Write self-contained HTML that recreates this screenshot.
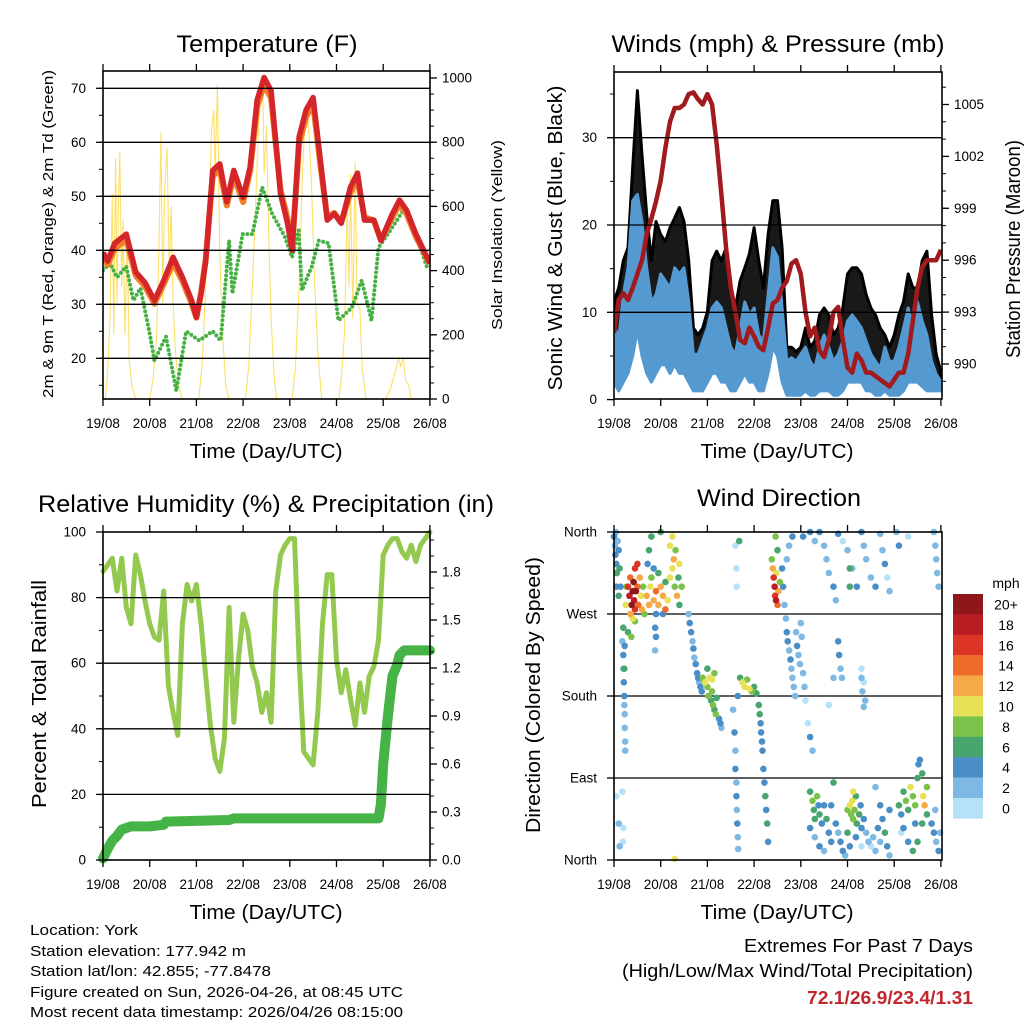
<!DOCTYPE html>
<html><head><meta charset="utf-8"><title>Weather station 7-day summary</title>
<style>
html,body{margin:0;padding:0;background:#fff;}
svg{display:block;font-family:"Liberation Sans",Arial,sans-serif;}
</style></head>
<body>
<svg id="chart" width="1024" height="1024" viewBox="0 0 1024 1024" xmlns="http://www.w3.org/2000/svg">
<rect x="0" y="0" width="1024" height="1024" fill="#fff"/>
<text x="267" y="52" font-size="24" text-anchor="middle" textLength="181" lengthAdjust="spacingAndGlyphs">Temperature (F)</text>
<text x="778" y="52" font-size="24" text-anchor="middle" textLength="333" lengthAdjust="spacingAndGlyphs">Winds (mph) &amp; Pressure (mb)</text>
<text x="266" y="512" font-size="24" text-anchor="middle" textLength="456" lengthAdjust="spacingAndGlyphs">Relative Humidity (%) &amp; Precipitation (in)</text>
<text x="779" y="506" font-size="24" text-anchor="middle" textLength="164" lengthAdjust="spacingAndGlyphs">Wind Direction</text>

<text x="266" y="458" font-size="20" text-anchor="middle" textLength="153" lengthAdjust="spacingAndGlyphs">Time (Day/UTC)</text>
<text x="777" y="458" font-size="20" text-anchor="middle" textLength="153" lengthAdjust="spacingAndGlyphs">Time (Day/UTC)</text>
<text x="266" y="919" font-size="20" text-anchor="middle" textLength="153" lengthAdjust="spacingAndGlyphs">Time (Day/UTC)</text>
<text x="777" y="919" font-size="20" text-anchor="middle" textLength="153" lengthAdjust="spacingAndGlyphs">Time (Day/UTC)</text>

<text transform="translate(53,234) rotate(-90)" font-size="15" text-anchor="middle" textLength="328" lengthAdjust="spacingAndGlyphs">2m &amp; 9m T (Red, Orange) &amp; 2m Td (Green)</text>
<text transform="translate(502,235) rotate(-90)" font-size="15" text-anchor="middle" textLength="190" lengthAdjust="spacingAndGlyphs">Solar Insolation (Yellow)</text>
<text transform="translate(562,238) rotate(-90)" font-size="20" text-anchor="middle" textLength="305" lengthAdjust="spacingAndGlyphs">Sonic Wind &amp; Gust (Blue, Black)</text>
<text transform="translate(1020,249) rotate(-90)" font-size="20" text-anchor="middle" textLength="218" lengthAdjust="spacingAndGlyphs">Station Pressure (Maroon)</text>
<text transform="translate(46,694) rotate(-90)" font-size="20" text-anchor="middle" textLength="228" lengthAdjust="spacingAndGlyphs">Percent &amp; Total Rainfall</text>
<text transform="translate(540,695) rotate(-90)" font-size="20" text-anchor="middle" textLength="276" lengthAdjust="spacingAndGlyphs">Direction (Colored By Speed)</text>

<g font-size="15">
<text x="30" y="935" textLength="108" lengthAdjust="spacingAndGlyphs">Location: York</text>
<text x="30" y="956" textLength="216" lengthAdjust="spacingAndGlyphs">Station elevation: 177.942 m</text>
<text x="30" y="976" textLength="241" lengthAdjust="spacingAndGlyphs">Station lat/lon: 42.855; -77.8478</text>
<text x="30" y="997" textLength="373" lengthAdjust="spacingAndGlyphs">Figure created on Sun, 2026-04-26, at 08:45 UTC</text>
<text x="30" y="1017" textLength="373" lengthAdjust="spacingAndGlyphs">Most recent data timestamp: 2026/04/26 08:15:00</text>
</g>
<text x="973" y="952" font-size="18" text-anchor="end" textLength="229" lengthAdjust="spacingAndGlyphs">Extremes For Past 7 Days</text>
<text x="973" y="977" font-size="18" text-anchor="end" textLength="351" lengthAdjust="spacingAndGlyphs">(High/Low/Max Wind/Total Precipitation)</text>
<text x="973" y="1004" font-size="18" font-weight="bold" fill="#c1272d" text-anchor="end" textLength="166" lengthAdjust="spacingAndGlyphs">72.1/26.9/23.4/1.31</text>
</svg>
<script>
// ---------- DATA ----------
const dayLabels = ["19/08","20/08","21/08","22/08","23/08","24/08","25/08","26/08"];
const tempTimes = [0,0.1,0.25,0.5,0.7,0.9,1.1,1.3,1.5,1.7,1.9,2.0,2.1,2.2,2.35,2.5,2.65,2.8,3.0,3.15,3.3,3.45,3.6,3.8,3.95,4.05,4.2,4.35,4.5,4.65,4.8,4.95,5.1,5.3,5.45,5.6,5.8,5.95,6.2,6.35,6.5,6.7,7.0];
const tempRed = [39.6,38,41.3,43,36,34,30.7,34.4,38.7,35,30.7,27.6,32,38,54.8,56,49,54.8,49.8,55.4,67.8,72,69.6,50.5,45,40,61,66,68.3,57,45.6,46.8,45,51.7,54.3,45.6,45.6,41.8,46.8,49.3,47.4,43,37.6];
const tempOrange = [39,37.6,40.6,42.2,35.6,33.6,30.4,34,38,34.6,30.4,27.8,32.4,38.6,54,55.2,48.6,54,49.2,55,66.8,71,68.4,51.5,46.2,40.6,60,65,67.4,56.4,46.4,47.2,45.4,51,53.4,46.4,45.8,42.2,46.4,48.8,47,42.8,37.8];
const dewTimes = [0,0.15,0.3,0.5,0.65,0.8,1.0,1.1,1.35,1.57,1.78,2.06,2.35,2.52,2.7,2.77,2.99,3.2,3.41,3.62,3.9,4.05,4.19,4.26,4.47,4.62,4.83,5.04,5.33,5.54,5.75,5.9,6.1,6.43,6.67,6.96];
const dewPoint = [36.3,37.6,35,37,30.7,33,24.6,19.6,24,14,25,23.3,25,23.3,41.8,32,43,43,51.7,46.8,42.4,38.7,43.7,32.6,37,41.8,41.3,27,29.4,34.4,27,40.5,43,47.4,43.7,36.3];
const solarTimes = [0,0.05,0.1,0.15,0.2,0.23,0.27,0.3,0.33,0.36,0.4,0.43,0.47,0.52,0.56,0.62,0.7,
 1.0,1.07,1.15,1.2,1.24,1.28,1.32,1.37,1.42,1.46,1.5,1.55,1.62,1.7,
 2.05,2.12,2.2,2.27,2.33,2.37,2.4,2.45,2.5,2.56,2.63,2.7,
 3.05,3.12,3.2,3.28,3.33,3.38,3.42,3.45,3.5,3.55,3.6,3.67,3.72,
 4.05,4.12,4.2,4.27,4.32,4.37,4.42,4.47,4.52,4.6,4.68,
 5.05,5.1,5.17,5.23,5.27,5.3,5.35,5.4,5.44,5.5,5.55,5.63,
 6.05,6.15,6.25,6.33,6.38,6.43,6.48,6.55,6.6,7.0];
const solarValues = [0,0,80,250,640,200,750,300,600,770,350,560,200,500,120,40,0,
 0,60,200,480,830,300,650,780,400,600,300,150,40,0,
 0,100,350,600,850,900,700,980,450,200,40,0,
 0,100,350,650,850,950,990,700,850,500,250,60,0,
 0,100,350,700,850,900,800,650,400,150,0,
 0,60,200,600,350,700,250,740,300,280,100,0,
 0,30,80,130,100,130,60,40,0,0];
const windStepDays = 0.1;
const windHigh = [8.6,7,12,15.1,22.8,23.5,20.4,15.1,11.2,12,14.4,13.6,12.8,15.1,14.4,15.1,11.2,5.2,5.2,6.7,8.2,10.5,11.2,10.5,8.2,6,5.2,8.2,11.2,9.7,10.5,7.4,6.7,12,17.4,16.3,10.5,4.4,4.8,4.4,5.2,6,4.4,3.6,6,7.4,6,4.4,5.2,6.7,9,9.7,9,8.2,6.7,5.2,4.4,3.6,6,4.4,4.4,6,8.2,10.5,8.2,11.2,9,7.4,4.4,2.9,2.1];
const windLow = [2,1,2,3,5,8,5,3,2,3,4,4,3,4,3,3,2,1,1,1,2,3,3,2,2,1,1,2,3,2,2,1,1,3,6,5,2,0.5,0.5,0.5,0.5,1,0.5,0.5,1,1,1,0.5,0.5,1,2,2,2,2,1,1,0.5,0.5,1,0.5,0.5,0.5,1,2,2,2,1.5,1,1,1,1];
const gustHigh = [11.2,12.8,15.9,17.4,26.6,35.4,28,21.2,15.9,20.4,18.9,18.1,19.7,20.8,22,20.4,15.9,8.2,7.4,8.2,10.1,15.9,17,15.9,17.4,12,10.5,13.6,15.1,16.7,19.7,15.9,12.8,18.9,22.8,22.8,17.4,6,6,5.5,6,8.2,6,6.7,9.7,10.5,9.7,7.4,8.2,10.5,14.4,15.1,15.1,14.4,12,10.5,9.7,8.2,7.4,6,7.4,9.7,11.2,14.4,12.8,12.8,15.9,17,9.7,5.2,3.2];
const pressure = [991.8,993.7,994.1,993.7,994.4,995.2,996,997.5,998.4,999.4,1000.6,1002.5,1004,1004.8,1004.8,1005,1005.6,1005.7,1005.3,1005,1005.6,1005,1002.7,999.8,996.7,994.4,993,991.4,991.2,992.1,991.6,991,990.8,992.1,993.5,993.7,994.4,994.8,995.8,996,995.2,993,991.6,992.1,990.8,990.4,991.4,993,993.3,991.4,989.8,989.5,990.6,990.2,989.5,989.5,989.3,989.1,988.9,988.7,989.1,989.5,989.5,990.6,992.5,994.4,995.6,996,996,996,996.6];
const humidity = [88,90,92,82,92,77,72,93,87,79,72,68,67,82,53,45,38,72,84,79,84,72,56,41,31,27,37,77,42,61,75,70,59,54,45,51,42,82,93,96,98,98,61,33,31,29,45,72,87,87,61,51,58,49,41,54,45,56,59,67,93,96,98,98,94,92,96,91,96,98,100];
const precipTimes = [0,0.1,0.2,0.3,0.4,0.5,0.6,1.0,1.3,1.35,2.7,2.8,5.9,5.95,6.0,6.1,6.2,6.3,6.35,6.45,7.0];
const precipValues = [0.01,0.07,0.12,0.15,0.19,0.2,0.21,0.21,0.22,0.24,0.25,0.26,0.26,0.35,0.6,0.9,1.15,1.22,1.28,1.31,1.31];
const speedLegendLabels = ["20+","18","16","14","12","10","8","6","4","2","0"];
const directionLabels = ["North","West","South","East","North"];
// wind direction observations: [day, degrees, mph]
const dirNorthStart = [[0.0,355,4],[0.02,345,3],[0.03,335,5],[0.05,325,4],[0.06,315,6],[0.08,350,3],[0.1,340,5],[0.12,320,6],[0.14,300,5],[0.05,300,4],[0.1,290,7],[0.04,360,2],[0.05,70,1],[0.1,40,2],[0.12,15,2]];
const dirRedGust = [[0.3,300,16],[0.33,290,18],[0.35,310,14],[0.38,280,20],[0.4,295,22],[0.42,305,21],[0.43,285,19],[0.45,275,17],[0.47,295,20],[0.5,300,15],[0.52,280,14],[0.55,310,12],[0.58,290,10],[0.35,270,13],[0.4,265,11],[0.45,262,8],[0.3,250,6],[0.37,245,8],[0.25,280,10],[0.27,300,8],[0.5,325,16],[0.45,320,17],[0.6,275,12],[0.62,300,9]];
const dirWestDay20 = [[0.7,290,12],[0.75,280,13],[0.78,300,10],[0.8,310,8],[0.85,285,12],[0.9,295,14],[0.95,280,12],[1.0,300,13],[1.05,290,12],[1.1,275,14],[1.15,285,10],[1.2,310,11],[1.25,320,10],[1.28,330,12],[1.3,300,9],[1.32,340,8],[1.35,290,12],[1.38,310,7],[1.4,280,6],[1.45,300,8],[0.75,340,7],[0.8,355,6],[0.72,325,4],[0.85,320,4],[1.2,345,11],[1.25,355,10],[1.1,305,7],[0.95,315,6],[1.05,270,4],[1.4,325,10],[0.65,270,9],[0.9,270,5],[1.0,360,6]];
const dirVeerDay19 = [[0.18,240,3],[0.2,225,4],[0.2,210,3],[0.21,195,4],[0.22,180,4],[0.22,170,3],[0.23,160,2],[0.23,145,2],[0.24,130,2],[0.24,120,2],[0.18,75,1],[0.2,35,1],[0.19,20,1],[0.22,210,6],[0.2,255,6],[0.23,235,5],[0.88,255,4],[0.88,230,2],[0.9,245,4]];
const dirBackDay21 = [[1.6,270,2],[1.62,260,4],[1.65,250,4],[1.68,240,3],[1.7,232,4],[1.72,222,2],[1.75,215,4],[1.78,205,4],[1.8,200,4],[1.82,195,3],[1.85,190,4],[1.88,185,4],[1.9,200,8],[1.95,195,10],[2.0,190,9],[2.02,180,8],[2.05,200,11],[2.08,175,7],[2.1,185,8],[2.12,170,9],[2.15,165,7],[2.18,160,8],[2.2,178,6],[2.25,155,4],[2.28,150,4],[2.3,145,3],[2.15,205,8],[2.0,210,6],[2.1,198,10]];
const dirSouthDay22 = [[2.58,140,4],[2.6,120,3],[2.6,100,4],[2.62,85,2],[2.62,70,4],[2.63,55,3],[2.64,40,4],[2.65,25,3],[2.66,12,2],[2.55,165,3],[2.7,200,7],[2.75,195,10],[2.8,190,11],[2.85,198,9],[2.9,188,10],[2.95,185,8],[3.0,190,7],[3.05,183,6],[3.1,170,6],[3.12,160,6],[3.14,150,5],[3.15,140,4],[3.17,130,4],[3.18,120,4],[3.2,100,4],[3.22,85,4],[3.24,70,6],[3.26,55,4],[3.28,40,6],[3.3,20,4],[2.65,180,4],[2.6,345,1],[2.62,320,1],[2.68,350,6],[2.63,300,1]];
const dirWestDay22 = [[3.38,330,8],[3.4,320,12],[3.42,310,16],[3.44,300,18],[3.45,290,17],[3.47,285,19],[3.5,280,15],[3.52,295,13],[3.48,315,10],[3.55,305,9],[3.5,340,6],[3.46,355,8]];
const dirColumnsDay23 = [[3.6,320,4],[3.62,300,4],[3.65,280,3],[3.68,265,2],[3.7,250,4],[3.72,240,4],[3.75,230,2],[3.78,220,4],[3.8,210,3],[3.82,200,2],[3.85,190,3],[3.88,180,2],[3.9,250,2],[3.92,235,4],[3.95,225,3],[3.98,215,2],[4.0,260,2],[4.02,245,2],[4.05,205,2],[4.08,190,3],[4.1,175,1],[4.15,150,1],[4.2,135,4],[4.25,120,2],[3.7,330,3],[3.75,345,2],[3.82,355,4],[4.8,240,4],[4.82,225,4],[4.85,210,2],[4.88,200,2],[5.3,200,2],[5.32,185,2],[5.35,168,2],[4.7,200,2],[4.6,170,1]];
const dirNorthLate = [[4.05,355,4],[4.2,360,4],[4.3,350,3],[4.4,360,4],[4.5,345,2],[4.55,330,2],[4.6,315,3],[4.7,300,4],[4.75,285,2],[4.8,358,4],[4.9,350,1],[5.0,340,2],[5.1,320,3],[5.2,300,4],[5.3,360,4],[5.35,345,2],[5.4,330,3],[5.5,310,2],[5.6,300,4],[5.7,358,3],[5.75,340,2],[5.8,325,4],[5.85,310,1],[5.9,295,2],[6.05,360,2],[6.1,345,4],[6.3,355,1],[6.85,360,2],[6.88,345,2],[6.9,330,2],[6.92,315,2],[6.95,300,3],[5.05,300,6],[5.05,320,7],[5.3,210,1],[5.35,195,1],[5.38,175,2],[6.15,30,1]];
const dirNorthEastLate = [[4.2,75,6],[4.25,65,8],[4.28,55,7],[4.3,45,6],[4.35,70,8],[4.38,60,4],[4.4,50,6],[4.45,40,4],[4.5,60,5],[4.55,45,7],[4.6,30,4],[4.65,20,5],[4.2,35,4],[4.3,25,2],[4.4,15,4],[4.5,10,3],[4.65,60,4],[4.7,85,6],[4.75,40,4],[4.8,30,2],[4.85,20,4],[4.9,10,4],[4.95,5,2],[5.0,30,6],[5.05,15,4],[5.0,55,8],[5.05,60,10],[5.08,50,8],[5.1,65,10],[5.12,45,8],[5.15,55,9],[5.18,70,6],[5.2,40,7],[5.25,50,6],[5.28,60,4],[5.3,35,5],[5.35,45,4],[5.12,75,11],[5.18,25,4],[5.3,15,1]];
const dirNorthEastEnd = [[5.4,30,2],[5.45,20,2],[5.5,15,1],[5.55,25,2],[5.6,10,2],[5.65,35,4],[5.7,20,2],[5.75,45,4],[5.8,30,6],[5.85,15,4],[5.9,55,4],[5.9,5,2],[5.6,80,2],[5.7,60,4],[6.1,60,6],[6.15,50,4],[6.2,75,6],[6.25,65,8],[6.3,55,6],[6.35,80,10],[6.4,70,9],[6.45,60,8],[6.5,90,6],[6.52,105,4],[6.55,110,4],[6.6,95,6],[6.62,70,10],[6.65,60,12],[6.7,80,8],[6.7,50,6],[6.2,35,4],[6.3,20,4],[6.4,10,6],[6.5,20,6],[6.6,40,6],[6.45,40,4],[6.8,40,4],[6.85,30,4],[6.9,20,2],[6.95,10,4],[6.98,30,2],[6.88,55,2],[1.3,1,10]];

// ---------- HELPERS ----------
const NS = "http://www.w3.org/2000/svg";
const svg = document.getElementById('chart');
function mk(tag, parent, attrs){
  const e = document.createElementNS(NS, tag);
  for (const k in attrs) e.setAttribute(k, attrs[k]);
  parent.appendChild(e);
  return e;
}
function group(parent, name){
  const g = mk('g', parent, {});
  
  
  return g;
}
const DAY = 46.7;
const xA = t => 103 + t*DAY;
const xB = t => 614 + t*DAY;
const yTemp = v => 358.3 - (v-20)*5.4;
const ySolar = v => 399 - v*0.321;
const yWind = v => 399.6 - v*8.73;
const yPres = p => 364 - (p-990)*17.3;
const yRH = v => 860 - v*3.28;
const yPrecip = v => 860 - v*160;
const yDir = d => 860 - d*0.9111;
const speedColors = ["#b5e2f8","#7eb9e3","#4a8ec7","#47a56d","#7cc24a","#e7e158","#f6aa47","#ef6b2b","#dc3427","#bb1d24","#8f1619"];
function speedColor(s){ return speedColors[Math.min(10, Math.max(0, Math.floor(s/2)))]; }
function pathFrom(xs, ys){ return xs.map((x,i)=>(i?'L':'M')+x.toFixed(1)+','+ys[i].toFixed(1)).join(''); }

function frame(g, x0,y0,x1,y1){
  const r = mk('rect', g, {x:x0,y:y0,width:x1-x0,height:y1-y0,fill:'none',stroke:'#000','stroke-width':1.6});
  
  
}
function hGrid(g, x0,x1,ys){
  ys.forEach(y=>{
    const l = mk('line', g, {x1:x0,x2:x1,y1:y,y2:y,stroke:'#000','stroke-width':1.3});
    
    
  });
}
function xAxis(g, xf, y0, y1){
  dayLabels.forEach((lab,i)=>{
    const x = xf(i);
    const t1 = mk('line', g, {x1:x,x2:x,y1:y0-7,y2:y0,stroke:'#000','stroke-width':1.3});
    
    
    const t2 = mk('line', g, {x1:x,x2:x,y1:y1,y2:y1+7,stroke:'#000','stroke-width':1.3});
    
    
    const tx = mk('text', g, {x:x,y:y1+29,'font-size':13.5,'text-anchor':'middle'});
    
    
    tx.textContent = lab;
  });
}
function yTicks(g, side, xEdge, values, yf, labels, minorValues){
  const dir = side==='left' ? -1 : 1;
  minorValues.forEach(v=>{
    const y = yf(v);
    const l = mk('line', g, {x1:xEdge,x2:xEdge+dir*4,y1:y,y2:y,stroke:'#000','stroke-width':1});
    
    
  });
  values.forEach((v,i)=>{
    const y = yf(v);
    const l = mk('line', g, {x1:xEdge,x2:xEdge+dir*7,y1:y,y2:y,stroke:'#000','stroke-width':1.3});
    
    
    const tx = mk('text', g, {x:xEdge+dir*(side==='left'?17:12),y:y+4.5,'font-size':13.5,'text-anchor':side==='left'?'end':'start'});
    
    
    tx.textContent = labels[i];
  });
}
function range(a,b,s){ const r=[]; for(let v=a; v<=b+1e-9; v+=s) r.push(+v.toFixed(4)); return r; }

// ---------- PANEL 1: TEMPERATURE ----------
(function(){
  const g = group(svg, 'temperature-panel');
  const clip = mk('clipPath', g, {id:'clipA'});
  mk('rect', clip, {x:103,y:71,width:327,height:328});
  const plot = mk('g', g, {'clip-path':'url(#clipA)'});
  
  
  const sol = mk('path', plot, {d:pathFrom(solarTimes.map(xA), solarValues.map(ySolar)), fill:'none', stroke:'#fde06a','stroke-width':1.1});
  
  
  hGrid(g, 103, 430, [20,30,40,50,60,70].map(yTemp));
  const dew = mk('path', plot, {d:pathFrom(dewTimes.map(xA), dewPoint.map(yTemp)), fill:'none', stroke:'#46b044','stroke-width':4,'stroke-linecap':'round','stroke-dasharray':'0 4.5'});
  
  
  const or = mk('path', plot, {d:pathFrom(tempTimes.map(xA), tempOrange.map(v=>yTemp(v)+1.5)), fill:'none', stroke:'#f27f27','stroke-width':6,'stroke-linejoin':'round'});
  
  
  const rd = mk('path', plot, {d:pathFrom(tempTimes.map(xA), tempRed.map(yTemp)), fill:'none', stroke:'#d4262a','stroke-width':5.5,'stroke-linejoin':'round'});
  
  
  frame(g,103,71,430,399);
  xAxis(g, xA, 71, 399);
  yTicks(g,'left',103,[20,30,40,50,60,70],yTemp,["20","30","40","50","60","70"],range(15,70,5));
  yTicks(g,'right',430,[0,200,400,600,800,1000],ySolar,["0","200","400","600","800","1000"],range(0,1000,50));
})();

// ---------- PANEL 2: WINDS ----------
(function(){
  const g = group(svg, 'winds-panel');
  const clip = mk('clipPath', g, {id:'clipB'});
  mk('rect', clip, {x:614,y:72,width:328,height:327});
  const plot = mk('g', g, {'clip-path':'url(#clipB)'});
  
  
  hGrid(g, 614, 942, [10,20,30].map(yWind));
  const ts = windHigh.map((_,i)=>i*windStepDays);
  const xs = ts.map(xB);
  const gust = mk('path', plot, {d:pathFrom(xs, gustHigh.map(yWind)) + pathFrom(xs.slice().reverse(), windHigh.map(yWind).reverse()).replace('M','L')+'Z', fill:'#000', 'fill-opacity':0.9, stroke:'#000','stroke-width':3,'stroke-linejoin':'round'});
  
  
  const wind = mk('path', plot, {d:pathFrom(xs, windHigh.map(yWind)) + pathFrom(xs.slice().reverse(), windLow.map(yWind).reverse()).replace('M','L')+'Z', fill:'#5599d1', stroke:'#5599d1','stroke-width':3,'stroke-linejoin':'round'});
  
  
  const pr = mk('path', plot, {d:pathFrom(xs, pressure.map(yPres)), fill:'none', stroke:'#a11a1d','stroke-width':4.5,'stroke-linejoin':'round'});
  
  
  frame(g,614,72,942,399);
  xAxis(g, xB, 72, 399);
  yTicks(g,'left',614,[0,10,20,30],yWind,["0","10","20","30"],range(0,35,5));
  yTicks(g,'right',942,[990,993,996,999,1002,1005],yPres,["990","993","996","999","1002","1005"],range(989,1006,1));
})();

// ---------- PANEL 3: HUMIDITY & PRECIP ----------
(function(){
  const g = group(svg, 'humidity-panel');
  const clip = mk('clipPath', g, {id:'clipC'});
  mk('rect', clip, {x:97,y:526,width:339,height:340});
  const plot = mk('g', g, {'clip-path':'url(#clipC)'});
  
  
  hGrid(g, 103, 430, [20,40,60,80].map(yRH));
  const ts = humidity.map((_,i)=>i*0.1);
  const rh = mk('path', plot, {d:pathFrom(ts.map(xA), humidity.map(yRH)), fill:'none', stroke:'#94c94f','stroke-width':5,'stroke-linejoin':'round','stroke-linecap':'round'});
  
  
  const pc = mk('path', plot, {d:pathFrom(precipTimes.map(xA), precipValues.map(yPrecip)), fill:'none', stroke:'#46b347','stroke-width':10,'stroke-linejoin':'round','stroke-linecap':'round'});
  
  
  frame(g,103,532,430,860);
  xAxis(g, xA, 532, 860);
  yTicks(g,'left',103,[0,20,40,60,80,100],yRH,["0","20","40","60","80","100"],range(0,100,10));
  yTicks(g,'right',430,[0,0.3,0.6,0.9,1.2,1.5,1.8],yPrecip,["0.0","0.3","0.6","0.9","1.2","1.5","1.8"],range(0,2.0,0.1));
})();

// ---------- PANEL 4: WIND DIRECTION ----------
(function(){
  const g = group(svg, 'wind-direction-panel');
  hGrid(g, 614, 942, [90,180,270].map(yDir));
  const plot = group(g, 'direction-scatter');
  const all = [].concat(dirNorthStart, dirVeerDay19, dirColumnsDay23, dirNorthLate, dirNorthEastEnd, dirBackDay21, dirSouthDay22, dirNorthEastLate, dirWestDay20, dirWestDay22, dirRedGust);
  all.slice().sort((a,b)=>a[2]-b[2]).forEach(p=>{
    const c = mk('circle', plot, {cx:xB(p[0]).toFixed(1), cy:yDir(p[1]).toFixed(1), r:3.3, fill:speedColor(p[2])});
    
    
  });
  frame(g,614,532,942,860);
  xAxis(g, xB, 532, 860);
  yTicks(g,'left',614,[360,270,180,90,0],yDir,directionLabels,[]);
  const lg = group(svg, 'speed-legend');
  const t = mk('text', lg, {x:1006,y:588,'font-size':14,'text-anchor':'middle'});
  
  
  t.textContent = 'mph';
  speedLegendLabels.forEach((lab,i)=>{
    const y = 594 + i*20.4;
    const r = mk('rect', lg, {x:953,y:y,width:30,height:20.6,fill:speedColors[10-i]});
    
    
    const tx = mk('text', lg, {x:1006,y:y+15.5,'font-size':14,'text-anchor':'middle'});
    
    
    tx.textContent = lab;
  });
})();
</script>
</body></html>
